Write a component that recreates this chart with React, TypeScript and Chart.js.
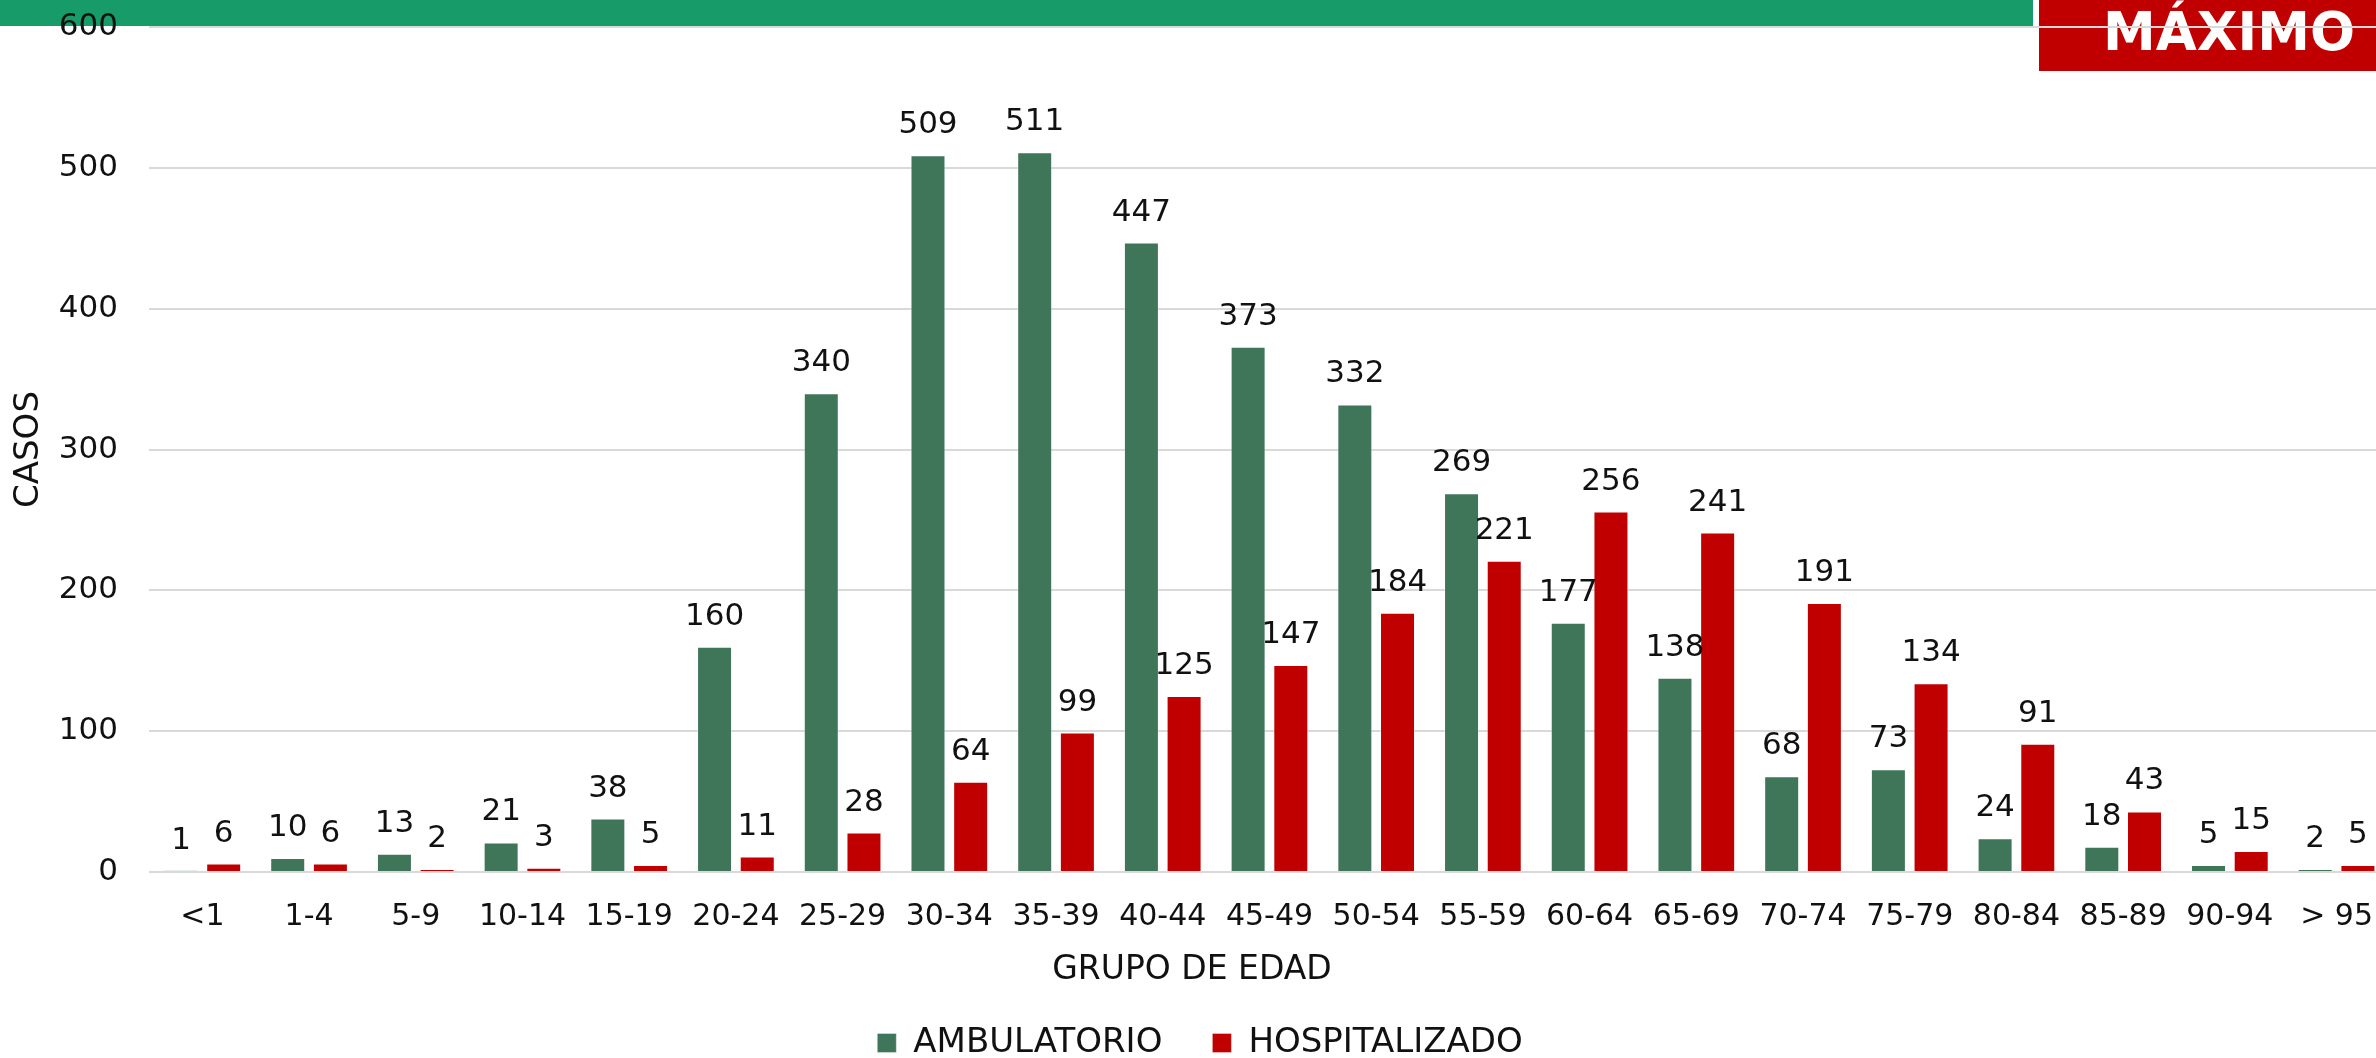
import React, { useEffect, useRef } from "react";
import { Chart, registerables } from "chart.js";

Chart.register(...registerables);

const categories = ["<1", "1-4", "5-9", "10-14", "15-19", "20-24", "25-29", "30-34", "35-39", "40-44", "45-49", "50-54", "55-59", "60-64", "65-69", "70-74", "75-79", "80-84", "85-89", "90-94", "> 95"];
const ambulatorio = [1, 10, 13, 21, 38, 160, 340, 509, 511, 447, 373, 332, 269, 177, 138, 68, 73, 24, 18, 5, 2];
const hospitalizado = [6, 6, 2, 3, 5, 11, 28, 64, 99, 125, 147, 184, 221, 256, 241, 191, 134, 91, 43, 15, 5];
const seriesNames = ["AMBULATORIO", "HOSPITALIZADO"];
const yMax = 600;
const yStep = 100;
const xTitle = "GRUPO DE EDAD";
const yTitle = "CASOS";
const badgeText = "MÁXIMO";

const FONT = "'DejaVu Sans', 'Noto Sans', sans-serif";
const GREEN = "#3F765A";
const RED = "#C00000";

const headerPlugin = {
  id: "header",
  beforeDraw(chart: any) {
    const ctx = chart.ctx;
    ctx.save();
    ctx.fillStyle = "#ffffff";
    ctx.fillRect(0, 0, chart.width, chart.height);
    ctx.fillStyle = "#169B69";
    ctx.fillRect(0, 0, 2033, 26);
    ctx.fillStyle = RED;
    ctx.fillRect(2039, 0, chart.width - 2039, 71);
    ctx.fillStyle = "#ffffff";
    ctx.font = `bold 53px ${FONT}`;
    ctx.textAlign = "center";
    ctx.textBaseline = "alphabetic";
    ctx.fillText(badgeText, 2229, 50);
    ctx.restore();
  },
};

const valueLabelPlugin = {
  id: "valueLabels",
  afterDatasetsDraw(chart: any) {
    const ctx = chart.ctx;
    ctx.save();
    ctx.fillStyle = "#111111";
    ctx.font = `31px ${FONT}`;
    ctx.textAlign = "center";
    ctx.textBaseline = "middle";
    chart.data.datasets.forEach((ds: any, di: number) => {
      const meta = chart.getDatasetMeta(di);
      meta.data.forEach((el: any, i: number) => {
        ctx.fillText(String(ds.data[i]), el.x, el.y - 30);
      });
    });
    ctx.restore();
  },
};

const xTitlePlugin = {
  id: "xTitle",
  afterDraw(chart: any) {
    const ctx = chart.ctx;
    ctx.save();
    ctx.fillStyle = "#111111";
    ctx.font = `33px ${FONT}`;
    ctx.textAlign = "center";
    ctx.textBaseline = "middle";
    ctx.fillText(xTitle, chart.width / 2 - 8, chart.chartArea.bottom + 98);
    ctx.restore();
  },
};

export default function App() {
  const ref = useRef<HTMLCanvasElement | null>(null);

  useEffect(() => {
    if (!ref.current) return;
    const chart = new Chart(ref.current, {
      type: "bar",
      data: {
        labels: categories,
        datasets: [
          {
            label: seriesNames[0],
            data: ambulatorio,
            backgroundColor: GREEN,
            borderColor: "rgba(255,255,255,0.35)",
            borderWidth: 1,
            categoryPercentage: 0.8,
            barPercentage: 0.82,
          },
          {
            label: seriesNames[1],
            data: hospitalizado,
            backgroundColor: RED,
            borderColor: "rgba(255,255,255,0.35)",
            borderWidth: 1,
            categoryPercentage: 0.8,
            barPercentage: 0.82,
          },
        ],
      },
      options: {
        responsive: false,
        maintainAspectRatio: false,
        animation: false,
        devicePixelRatio: 1,
        layout: { padding: { top: 27, left: 0, right: 0, bottom: 0 } },
        plugins: {
          legend: {
            display: true,
            position: "bottom",
            labels: {
              boxWidth: 19,
              boxHeight: 19,
              padding: 50,
              color: "#111111",
              font: { family: FONT, size: 34 },
            },
          },
          tooltip: { enabled: false },
          title: { display: false },
        },
        scales: {
          x: {
            grid: { display: false, drawTicks: false },
            border: { display: false },
            ticks: {
              color: "#111111",
              font: { family: FONT, size: 30 },
              padding: 27,
              maxRotation: 0,
              autoSkip: false,
            },
            afterFit: (scale: any) => {
              scale.height = 104;
            },
          },
          y: {
            min: 0,
            max: yMax,
            ticks: {
              stepSize: yStep,
              color: "#111111",
              font: { family: FONT, size: 31 },
              padding: 31,
            },
            grid: { color: "#D9D9D9", lineWidth: 2, drawTicks: false },
            border: { display: false },
            title: {
              display: true,
              text: yTitle,
              color: "#111111",
              font: { family: FONT, size: 34 },
              padding: { top: 9, bottom: 0 },
            },
            afterFit: (scale: any) => {
              scale.width = 149;
              scale.paddingTop = 0;
              scale.paddingBottom = 0;
            },
          },
        },
      },
      plugins: [headerPlugin, valueLabelPlugin, xTitlePlugin],
    });
    return () => chart.destroy();
  }, []);

  return (
    <div
      style={{
        position: "fixed",
        left: 0,
        top: 0,
        width: 2376,
        height: 1058,
        overflow: "hidden",
        background: "#ffffff",
      }}
    >
      <canvas ref={ref} width={2400} height={1070} style={{ display: "block", width: 2400, height: 1070 }} />
    </div>
  );
}
